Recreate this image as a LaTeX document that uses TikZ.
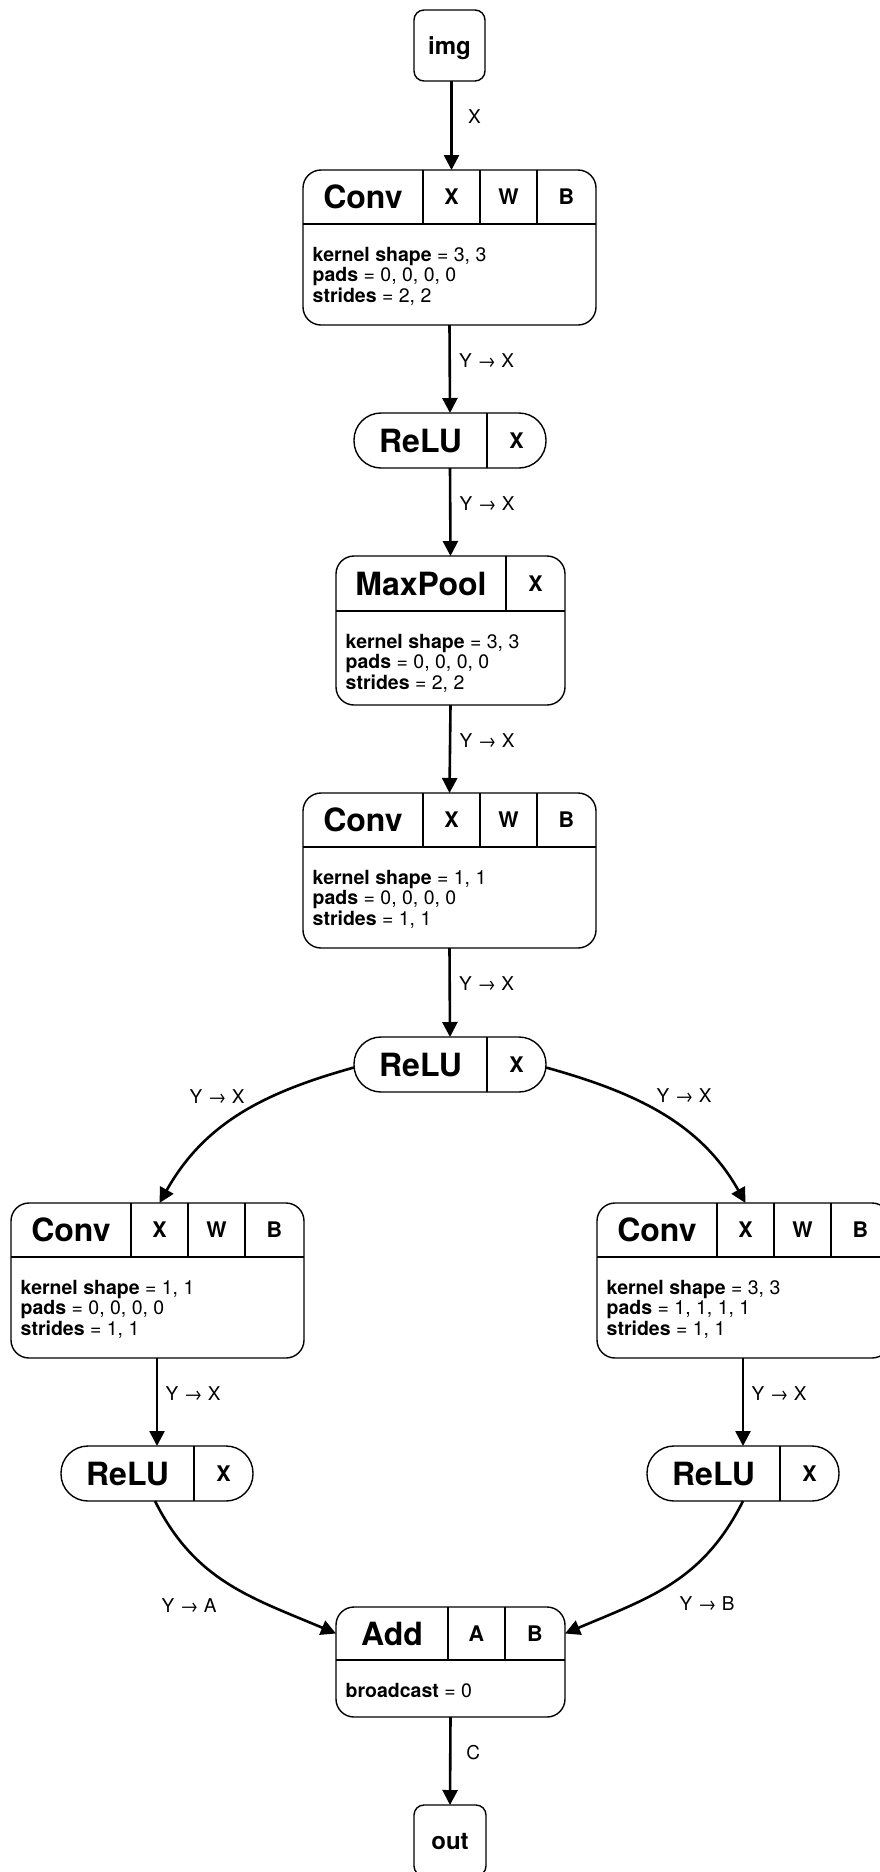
\documentclass[tikz,border=0pt]{standalone}
\usepackage{fontspec}
\setmainfont{TeX Gyre Heros}
\usetikzlibrary{arrows.meta}

\tikzset{
  opframe/.style={draw, line width=1.4pt, rounded corners=18pt, inner sep=0pt, outer sep=0pt, anchor=north west},
  ioframe/.style={draw, line width=1.4pt, rounded corners=10pt, inner sep=0pt, outer sep=0pt, anchor=north west,
    minimum width=71pt, minimum height=71pt, text height=17.3pt, text depth=0pt,
    font=\fontsize{24}{28}\selectfont\bfseries},
  pill/.style={draw, line width=1.4pt, rounded corners=27pt, inner sep=0pt, outer sep=0pt, anchor=north west,
    minimum width=192pt, minimum height=55pt},
  opcell/.style={inner sep=0pt, outer sep=0pt, anchor=north west, text height=23pt, text depth=0pt,
    font=\fontsize{32}{38}\selectfont\bfseries},
  port/.style={inner sep=0pt, outer sep=0pt, anchor=north west, text height=15.5pt, text depth=0pt,
    font=\fontsize{21.5}{25}\selectfont\bfseries},
  params/.style={inner sep=0pt, anchor=north west, align=left, font=\fontsize{19.5}{20.5}\selectfont},
  divider/.style={line width=1.4pt},
  flow/.style={line width=2.6pt, -{Triangle[length=15pt,width=15pt]}},
  lbl/.style={inner sep=0pt, font=\fontsize{19}{22}\selectfont},
}

% Conv operator: name, top-left corner, parameter lines
\newcommand\convop[3]{%
  \node[opframe, minimum width=293pt, minimum height=155pt] (#1) at (#2) {};
  \node[opcell, minimum width=120pt, minimum height=54pt] (#1-op) at (#1.north west) {Conv};
  \node[port, minimum width=57pt, minimum height=54pt] (#1-x) at (#1-op.north east) {X};
  \node[port, minimum width=57pt, minimum height=54pt] (#1-w) at (#1-x.north east) {W};
  \node[port, minimum width=59pt, minimum height=54pt] (#1-b) at (#1-w.north east) {B};
  \draw[divider] (#1-op.south west) -- (#1-op.south west -| #1.east);
  \draw[divider] (#1-x.north west) -- (#1-x.south west)
                 (#1-w.north west) -- (#1-w.south west)
                 (#1-b.north west) -- (#1-b.south west);
  \node[params] (#1-p) at ([shift={(9.5,22.6)}]#1-op.south west) {#3};
}

% ReLU operator: name, top-left corner
\newcommand\reluop[2]{%
  \node[pill] (#1) at (#2) {};
  \node[opcell, minimum width=133pt, minimum height=55pt] (#1-op) at (#1.north west) {ReLU};
  \node[port, minimum width=59pt, minimum height=55pt] (#1-x) at (#1-op.north east) {X};
  \draw[divider] (#1-x.north west) -- (#1-x.south west);
}

\begin{document}
\begin{tikzpicture}[x=1pt, y=-1pt]
\useasboundingbox (0,0) rectangle (880,1872);

% graph input
\node[ioframe] (img) at (414,10) {img};

% main trunk
\convop{c1}{303,170}{\textbf{kernel shape} = 3, 3\\ \textbf{pads} = 0, 0, 0, 0\\ \textbf{strides} = 2, 2}
\reluop{r1}{354,413}

\node[opframe, minimum width=229pt, minimum height=149pt] (mp) at (336,556) {};
\node[opcell, minimum width=170pt, minimum height=55pt] (mp-op) at (mp.north west) {MaxPool};
\node[port, minimum width=59pt, minimum height=55pt] (mp-x) at (mp-op.north east) {X};
\draw[divider] (mp-op.south west) -- (mp-op.south west -| mp.east);
\draw[divider] (mp-x.north west) -- (mp-x.south west);
\node[params] (mp-p) at ([shift={(9.5,22.6)}]mp-op.south west)
  {\textbf{kernel shape} = 3, 3\\ \textbf{pads} = 0, 0, 0, 0\\ \textbf{strides} = 2, 2};

\convop{c2}{303,793}{\textbf{kernel shape} = 1, 1\\ \textbf{pads} = 0, 0, 0, 0\\ \textbf{strides} = 1, 1}
\reluop{r2}{354,1037}

% two branches
\convop{c3}{11,1203}{\textbf{kernel shape} = 1, 1\\ \textbf{pads} = 0, 0, 0, 0\\ \textbf{strides} = 1, 1}
\convop{c4}{597,1203}{\textbf{kernel shape} = 3, 3\\ \textbf{pads} = 1, 1, 1, 1\\ \textbf{strides} = 1, 1}
\reluop{r3}{61,1446}
\reluop{r4}{647,1446}

% merge
\node[opframe, minimum width=229pt, minimum height=110pt] (add) at (336,1607) {};
\node[opcell, minimum width=112pt, minimum height=53pt] (add-op) at (add.north west) {Add};
\node[port, minimum width=57pt, minimum height=53pt] (add-a) at (add-op.north east) {A};
\node[port, minimum width=60pt, minimum height=53pt] (add-b) at (add-a.north east) {B};
\draw[divider] (add-op.south west) -- (add-op.south west -| add.east);
\draw[divider] (add-a.north west) -- (add-a.south west)
               (add-b.north west) -- (add-b.south west);
\node[params] (add-p) at ([shift={(9.5,22.6)}]add-op.south west) {\textbf{broadcast} = 0};

% graph output
\node[ioframe, minimum width=72pt] (out) at (414,1805) {out};

% connectors
\draw[flow] (img.south -| c1-x) -- node[lbl, pos=.4, xshift=23pt] {X} (c1-x.north);
\draw[flow] (c1.south) -- node[lbl, pos=.4, xshift=37pt] {Y → X} (r1.north);
\draw[flow] (r1.south) -- node[lbl, pos=.4, xshift=37pt] {Y → X} (mp.north);
\draw[flow] (mp.south) -- node[lbl, pos=.4, xshift=37pt] {Y → X} (c2.north);
\draw[flow] (c2.south) -- node[lbl, pos=.4, xshift=37pt] {Y → X} (r2.north);

\draw[flow] ([yshift=-3pt]r2.west) .. controls +(-90,25) and +(45,-80) .. (c3-x.north);
\node[lbl] (l-left) at (217,1097) {Y → X};
\draw[flow] ([yshift=-3pt]r2.east) .. controls +(90,25) and +(-45,-80) .. (c4-x.north);
\node[lbl] (l-right) at (684,1096) {Y → X};

\draw[flow] (r3.north |- c3.south) -- node[lbl, pos=.4, xshift=36pt] {Y → X} (r3.north);
\draw[flow] (r4.north |- c4.south) -- node[lbl, pos=.4, xshift=36pt] {Y → X} (r4.north);

\draw[flow] ([xshift=-2pt]r3.south) .. controls +(40,80) and +(-85,-36) .. (add-op.west);
\node[lbl] (l-a) at (189,1606) {Y → A};
\draw[flow] (r4.south) .. controls +(-40,80) and +(85,-36) .. (add-b.east);
\node[lbl] (l-b) at (707,1604) {Y → B};

\draw[flow] (add.south) -- node[lbl, pos=.4, xshift=23pt] {C} (out.north);
\end{tikzpicture}
\end{document}
